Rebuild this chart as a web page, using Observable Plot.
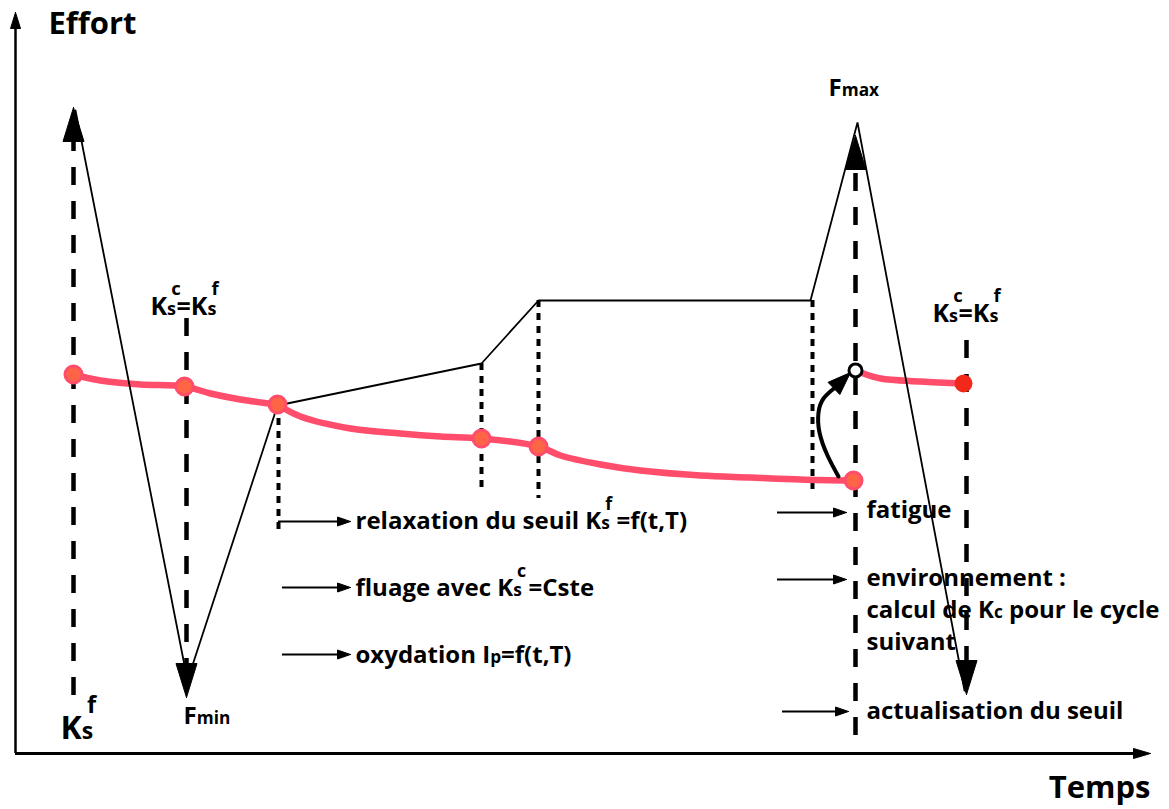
<!DOCTYPE html>
<html><head><meta charset="utf-8">
<script src="https://cdn.jsdelivr.net/npm/d3@7"></script>
<script src="https://cdn.jsdelivr.net/npm/@observablehq/plot@0.6"></script>
<style>body{margin:0;background:#fff}</style>
</head><body><div id="chart"></div>
<script>
// ---- data (time units along x, effort units along y, y measured downward from the top) ----
const loadTime   = [75, 187, 277, 481, 538, 810, 857, 964];
const loadEffort = [110, 680, 405, 363, 300, 300, 122, 690];

const seuilATime   = [73, 100, 140, 184, 210, 240, 277];
const seuilAEffort = [374, 380, 384, 386, 393, 399, 404];
const seuilBTime   = [277, 300, 350, 400, 440, 481, 538, 560, 600, 640, 700, 750, 800, 853];
const seuilBEffort = [404, 416, 428, 433, 436, 438, 446, 455, 464, 470, 475, 477, 479, 480];
const seuilCTime   = [863, 880, 920, 963];
const seuilCEffort = [373, 378, 381, 383];

const dotTime   = [73, 184, 277, 481, 538, 853];
const dotEffort = [374, 386, 404, 438, 446, 480];
const endDot = {t: 963, e: 383};
const openDot = {t: 855, e: 370};

// long dashed vertical arrows: position, start, tip
const longTime  = [73, 186, 855, 966];
const longStart = [695, 318, 735, 340];
const longTip   = [107, 697, 135, 694];

// dotted verticals
const dotLineTime  = [278, 481, 538, 812];
const dotLineTop   = [405, 363, 300, 300];
const dotLineBot   = [530, 490, 498, 494];

// small horizontal arrows
const smallFrom = [278, 282, 282, 777, 777, 782];
const smallTo   = [350, 350, 350, 846, 846, 848];
const smallAt   = [521, 587, 654, 512, 579, 711];

// curved arrow (fatigue -> new threshold)
const curveTime   = [838, 827, 819, 818, 823, 850];
const curveEffort = [476, 455, 432, 412, 398, 372];

// axes
const axisOrigin = {t: 15, e: 753};
const axisTopTip = 12;
const axisRightTip = 1150;

// texts
const textLabels = [
  {t: 355, e: 521, s: "relaxation du seuil K_{s}^{f} =f(t,T)"},
  {t: 355, e: 588, s: "fluage avec K_{s}^{c} =Cste"},
  {t: 355, e: 655, s: "oxydation I_{p}=f(t,T)"},
  {t: 866, e: 510, s: "fatigue"},
  {t: 866, e: 578, s: "environnement :"},
  {t: 866, e: 610, s: "calcul de K_{c} pour le cycle"},
  {t: 866, e: 642, s: "suivant"},
  {t: 866, e: 711, s: "actualisation du seuil"}
];
const symbolLabels = [
  {t: 150, e: 306, s: "K_{s}^{c}=K_{s}^{f}"},
  {t: 932, e: 313, s: "K_{s}^{c}=K_{s}^{f}"}
];
const forceLabels = [
  {t: 183, e: 716, s: "F_{min}"},
  {t: 828, e: 88, s: "F_{max}"}
];
const bigSymbol = [{t: 60, e: 728, s: "K_{s}^{f}"}];
const titleY = [{t: 48, e: 24, s: "Effort"}];
const titleX = [{t: 1150, e: 788, s: "Temps"}];

// ---- helpers ----
const zip = (a, b) => a.map((v, i) => ({t: v, e: b[i]}));
function head(tx, ty, dx, dy, len, hw, id) {
  const n = Math.hypot(dx, dy); dx /= n; dy /= n;
  const bx = tx - dx * len, by = ty - dy * len;
  const px = -dy, py = dx;
  return [
    {t: tx, e: ty, id}, {t: bx + px * hw, e: by + py * hw, id},
    {t: bx - px * hw, e: by - py * hw, id}, {t: tx, e: ty, id}
  ];
}

const heads = [];
longTime.forEach((t, i) => {
  const dir = longTip[i] < longStart[i] ? -1 : 1;
  heads.push(...head(t, longTip[i], 0, dir, 34, 10.5, "L" + i));
});
smallFrom.forEach((f, i) => heads.push(...head(smallTo[i], smallAt[i], 1, 0, 13, 4.5, "S" + i)));
heads.push(...head(axisOrigin.t, axisTopTip, 0, -1, 16, 5, "AY"));
heads.push(...head(axisRightTip, axisOrigin.e, 1, 0, 17, 5, "AX"));
const nC = curveTime.length;
const cdx = curveTime[nC-1] - curveTime[nC-2], cdy = curveEffort[nC-1] - curveEffort[nC-2];
const cHead = head(curveTime[nC-1], curveEffort[nC-1], cdx, cdy, 23, 8.5, "C");
heads.push(...cHead);
const cBase = {t: (cHead[1].t + cHead[2].t) / 2, e: (cHead[1].e + cHead[2].e) / 2};
const curveShaft = [...zip(curveTime.slice(0, -1), curveEffort.slice(0, -1)), cBase];

const longSegs = longTime.map((t, i) => {
  const dir = longTip[i] < longStart[i] ? -1 : 1;
  return {t, e1: longStart[i], e2: longTip[i] - dir * 30};
});
const dotSegs = dotLineTime.map((t, i) => ({t, e1: dotLineTop[i], e2: dotLineBot[i]}));
const smallSegs = smallFrom.map((f, i) => ({t1: f, t2: smallTo[i] - 10, e: smallAt[i]}));

const FONT = "'Open Sans', 'DejaVu Sans', sans-serif";
const RED = "#ff4d6b";
const txt = (data, size, anchor = "start") => Plot.text(data, {x: "t", y: "e", text: "s", textAnchor: anchor, fontSize: size, fontWeight: "bold", fontFamily: FONT, fill: "black"});

const plot = Plot.plot({
  width: 1169, height: 809, margin: 0,
  x: {domain: [0, 1169], range: [0, 1169], axis: null},
  y: {domain: [0, 809], range: [0, 809], axis: null},
  style: {background: "white"},
  marks: [
    // axes
    Plot.ruleX([axisOrigin], {x: "t", y1: axisOrigin.e, y2: axisTopTip + 10, stroke: "black", strokeWidth: 2.5}),
    Plot.ruleY([axisOrigin], {y: "e", x1: axisOrigin.t, x2: axisRightTip - 10, stroke: "black", strokeWidth: 3}),
    // dotted verticals
    Plot.ruleX(dotSegs, {x: "t", y1: "e1", y2: "e2", stroke: "black", strokeWidth: 4, strokeDasharray: "7,6"}),
    // red thresholds
    Plot.line(zip(seuilATime, seuilAEffort), {x: "t", y: "e", curve: "catmull-rom", stroke: RED, strokeWidth: 6.5}),
    Plot.line(zip(seuilBTime, seuilBEffort), {x: "t", y: "e", curve: "catmull-rom", stroke: RED, strokeWidth: 6.5}),
    Plot.line(zip(seuilCTime, seuilCEffort), {x: "t", y: "e", curve: "catmull-rom", stroke: RED, strokeWidth: 6.5}),
    // long dashed verticals
    Plot.ruleX(longSegs, {x: "t", y1: "e1", y2: "e2", stroke: "black", strokeWidth: 4.5, strokeDasharray: "18,16"}),
    // load path
    Plot.line(zip(loadTime, loadEffort), {x: "t", y: "e", stroke: "black", strokeWidth: 1.8, strokeLinejoin: "miter"}),
    // small arrows shafts
    Plot.ruleY(smallSegs, {y: "e", x1: "t1", x2: "t2", stroke: "black", strokeWidth: 2}),
    // curved arrow shaft
    Plot.line(curveShaft, {x: "t", y: "e", curve: "natural", stroke: "black", strokeWidth: 4}),
    // arrow heads
    Plot.line(heads, {x: "t", y: "e", z: "id", fill: "black", stroke: "black", strokeWidth: 1, curve: "linear"}),
    // dots
    Plot.dot(zip(dotTime, dotEffort), {x: "t", y: "e", r: 8.5, fill: "#ff6447", stroke: RED, strokeWidth: 3}),
    Plot.dot([endDot], {x: "t", y: "e", r: 9, fill: "#f2281a"}),
    Plot.dot([openDot], {x: "t", y: "e", r: 6.5, fill: "white", stroke: "black", strokeWidth: 3}),
    // texts
    txt(textLabels, 24),
    txt(symbolLabels, 25),
    txt(forceLabels, 24),
    txt(bigSymbol, 32),
    txt(titleY, 31),
    txt(titleX, 31, "end")
  ]
});
document.getElementById("chart").appendChild(plot);

// rich text: _{sub} and ^{sup}
d3.select(plot).selectAll("text").each(function() {
  const el = this;
  const str = el.textContent;
  if (!/[_^]\{/.test(str)) return;
  const g = el.closest("[font-size]");
  const S = parseFloat(g ? g.getAttribute("font-size") : 22);
  const parts = str.split(/(_\{[^}]*\}|\^\{[^}]*\})/).filter(p => p !== "");
  el.textContent = "";
  let raised = 0, back = 0, lastSub = 0;
  const sel = d3.select(el);
  for (const p of parts) {
    if (p.startsWith("_{")) {
      const ts = sel.append("tspan").attr("font-size", S * 0.72).attr("dy", raised || null).attr("dx", back || null).text(p.slice(2, -1));
      lastSub = ts.node().getComputedTextLength();
      raised = 0; back = 0;
    } else if (p.startsWith("^{")) {
      const rise = S * 0.8;
      const shift = lastSub * 0.55;
      const ts = sel.append("tspan").attr("font-size", S * 0.74).attr("dx", -shift).attr("dy", -rise).text(p.slice(2, -1));
      const w = ts.node().getComputedTextLength();
      raised = rise; back = Math.min(0, shift - w) + 0.5;
    } else {
      sel.append("tspan").attr("dy", raised || null).attr("dx", back || null).text(p);
      raised = 0; back = 0;
    }
  }
});
</script>
</body></html>
